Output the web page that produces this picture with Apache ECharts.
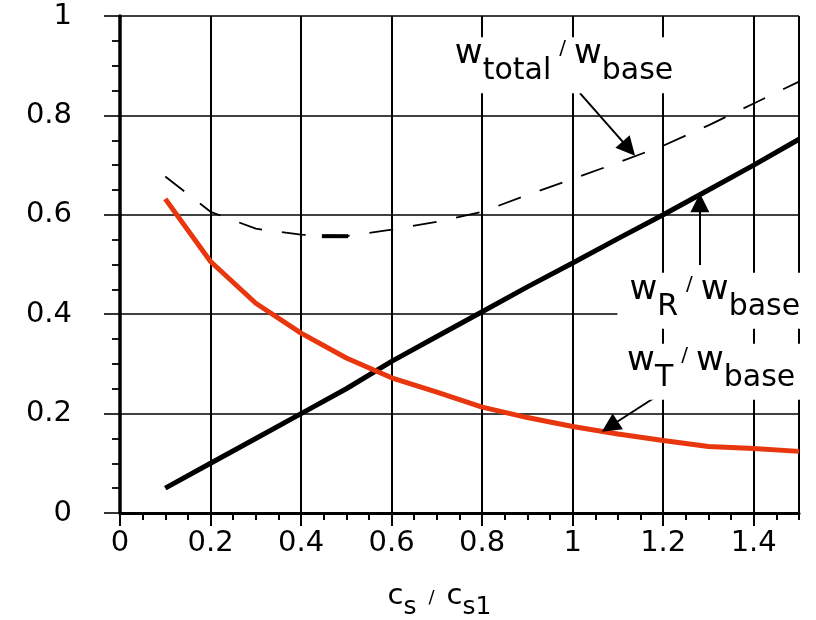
<!DOCTYPE html>
<html><head><meta charset="utf-8">
<script src="https://cdn.jsdelivr.net/npm/echarts@6/dist/echarts.min.js"></script>
<style>html,body{margin:0;padding:0;background:#fff}#chart{width:816px;height:620px}</style>
</head><body><div id="chart"></div>
<script>
// x values: c_s / c_s1
const ratio  = [0.1, 0.2, 0.3, 0.4, 0.5, 0.6, 0.7, 0.8, 0.9, 1.0, 1.1, 1.2, 1.3, 1.4, 1.5];
// w_R / w_base (thick black)
const wR     = [0.05, 0.10, 0.15, 0.20, 0.25, 0.305, 0.355, 0.405, 0.455, 0.503, 0.552, 0.60, 0.65, 0.70, 0.752];
// w_T / w_base (red)
const wT     = [0.632, 0.506, 0.422, 0.362, 0.312, 0.272, 0.243, 0.213, 0.192, 0.174, 0.159, 0.146, 0.134, 0.130, 0.124];
// w_total / w_base (dashed)
const wTotal = [0.677, 0.606, 0.572, 0.560, 0.557, 0.570, 0.586, 0.606, 0.640, 0.672, 0.705, 0.739, 0.780, 0.824, 0.868];
// short heavier dash on the dashed curve
const heavyDashX = [0.446, 0.504];
const heavyDashY = [0.557, 0.557];

// annotations
const annoSub = ['total', 'R', 'T'];
const annoX   = [0.981, 1.314, 1.306];
const annoY   = [0.901, 0.427, 0.284];
// arrows: start and (head) end in data units
const arrowFrom = [[1.016, 0.845], [1.281, 0.499], [1.208, 0.248]];
const arrowTo   = [[1.124, 0.733], [1.281, 0.624], [1.082, 0.174]];

const xTicks = [0, 0.2, 0.4, 0.6, 0.8, 1, 1.2, 1.4];
const yTicks = [0, 0.2, 0.4, 0.6, 0.8, 1];

const FONT = 'DejaVu Sans';
const chart = echarts.init(document.getElementById('chart'), null, {renderer: 'canvas'});

const pair = (xs, ys) => xs.map((x, i) => [x, ys[i]]);
const plain = {color: '#000', textBorderWidth: 0, textBorderColor: 'transparent', textShadowBlur: 0, opacity: 1};

const richAnno = {
  w:   Object.assign({fontFamily: FONT, fontSize: 34, verticalAlign: 'top', padding: [0, 0, 0, 0]}, plain),
  sub: Object.assign({fontFamily: FONT, fontSize: 30, verticalAlign: 'top', padding: [19, 0, 0, 0]}, plain),
  sl:  Object.assign({fontFamily: FONT, fontSize: 20, verticalAlign: 'top', padding: [2, 8, 0, 8]}, plain)
};

const option = {
  animation: false,
  backgroundColor: '#fff',
  textStyle: {fontFamily: FONT, color: '#000'},
  grid: {left: 120, right: 17, top: 16, bottom: 107, outerBoundsMode: 'none', containLabel: false},
  xAxis: [{
    type: 'value', min: 0, max: 1.5, interval: 0.2, position: 'bottom',
    axisLine: {show: true, onZero: false, lineStyle: {color: '#000', width: 3}},
    axisTick: {show: true, length: 13, lineStyle: {color: '#000', width: 2}},
    axisLabel: {show: true, margin: 16, fontSize: 29, color: '#000', fontFamily: FONT, showMaxLabel: false,
      formatter: v => (xTicks.some(t => Math.abs(t - v) < 1e-9) ? String(+v.toFixed(1)) : '')},
    splitLine: {show: true, lineStyle: {color: '#000', width: 2}},
    name: '{c|c}{s|s}{sl|/}{c|c}{s|s1}',
    nameLocation: 'middle', nameGap: 69,
    nameTextStyle: Object.assign({
      padding: [0, 40, 0, 0],
      rich: {
        c:  Object.assign({fontFamily: FONT, fontSize: 29, verticalAlign: 'top'}, plain),
        s:  Object.assign({fontFamily: FONT, fontSize: 25, verticalAlign: 'top', padding: [13, 0, 0, 0]}, plain),
        sl: Object.assign({fontFamily: FONT, fontSize: 18, verticalAlign: 'top', padding: [7, 12, 0, 12]}, plain)
      }
    }, plain)
  }, {
    type: 'value', min: 0, max: 1.5, interval: 0.05, position: 'bottom',
    axisLine: {show: false},
    axisTick: {show: true, length: 7, lineStyle: {color: '#000', width: 2}},
    axisLabel: {show: false},
    splitLine: {show: false}
  }],
  yAxis: [{
    type: 'value', min: 0, max: 1, interval: 0.2, position: 'left',
    axisLine: {show: true, onZero: false, lineStyle: {color: '#000', width: 3.5}},
    axisTick: {show: true, length: 16, lineStyle: {color: '#000', width: 1.6}},
    minorTick: {show: true, splitNumber: 4, length: 8, lineStyle: {color: '#000', width: 1.8}},
    axisLabel: {show: true, margin: 48, fontSize: 29, color: '#000', fontFamily: FONT},
    splitLine: {show: true, lineStyle: {color: '#000', width: 1.6}}
  }],
  series: [
    {
      name: 'w_total / w_base', type: 'line', data: pair(ratio, wTotal), symbol: 'none', z: 2,
      lineStyle: {color: '#000', width: 1.8, type: [24, 20]}
    },
    {
      name: 'heavy dash', type: 'line', data: pair(heavyDashX, heavyDashY), symbol: 'none', z: 2,
      lineStyle: {color: '#000', width: 4}
    },
    {
      name: 'w_R / w_base', type: 'line', data: pair(ratio, wR), symbol: 'none', z: 3,
      lineStyle: {color: '#000', width: 5}
    },
    {
      name: 'w_T / w_base', type: 'line', data: pair(ratio, wT), symbol: 'none', z: 4,
      lineStyle: {color: '#e8360e', width: 5}
    },
    {
      name: 'annotations', type: 'scatter', symbolSize: 0, z: 5, silent: true,
      itemStyle: {color: '#000', opacity: 1},
      data: annoX.map((x, i) => ({
        value: [x, annoY[i]],
        label: Object.assign({
          show: true, position: 'inside', backgroundColor: '#fff', padding: [0, 12, 7, 12],
          formatter: '{w|w}{sub|' + annoSub[i] + '}{sl|/}{w|w}{sub|base}',
          rich: richAnno
        }, plain)
      })),
      markLine: {
        silent: true, symbol: ['none', 'triangle'], symbolSize: 19,
        label: {show: false},
        itemStyle: {color: '#000'},
        lineStyle: {color: '#000', width: 2, type: 'solid'},
        emphasis: {disabled: true},
        data: arrowFrom.map((f, i) => [{coord: f}, {coord: arrowTo[i]}])
      }
    }
  ]
};
chart.setOption(option);
</script>
</body></html>
